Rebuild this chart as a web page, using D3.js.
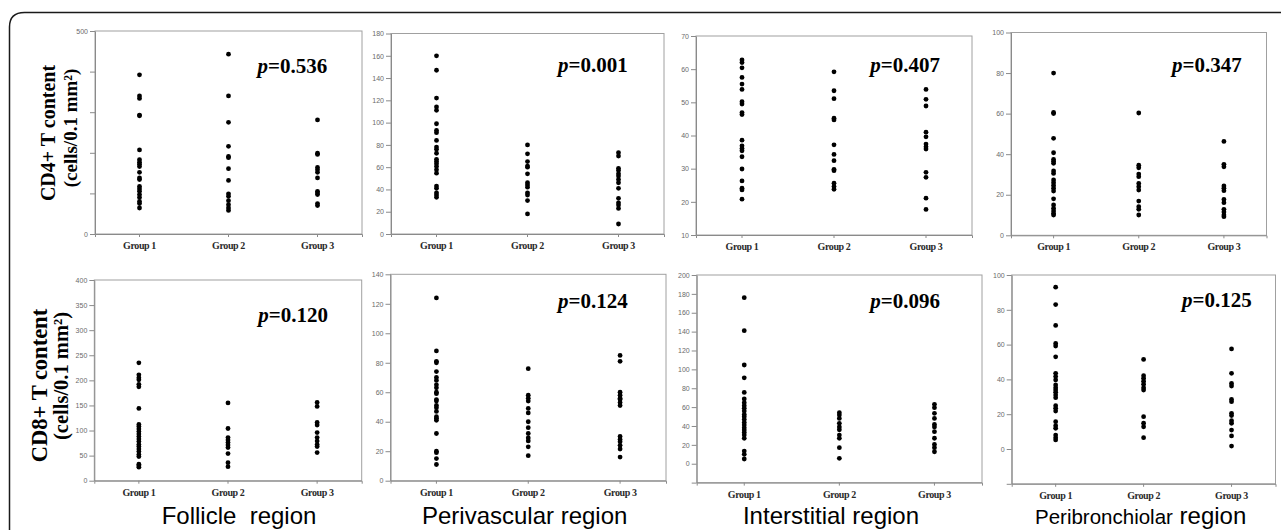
<!DOCTYPE html>
<html>
<head>
<meta charset="utf-8">
<script src="https://cdn.jsdelivr.net/npm/d3@7"></script>
<style>
  body { margin: 0; background: #fff; }
  svg { display: block; }
</style>
</head>
<body>
<div id="chart"></div>
<script>
var width = 1281;
var height = 530;

// data
var groups = ["Group 1", "Group 2", "Group 3"];
var regions = ["Follicle  region", "Perivascular region", "Interstitial region", "Peribronchiolar region"];

var cd4Follicle = [
    [392, 340, 334, 293, 291, 207, 183, 177, 172, 166, 152, 138, 134, 117, 111, 105, 97, 90, 80, 75, 64],
    [443, 340, 275, 216, 191, 188, 161, 132, 99, 93, 82, 72, 64, 58],
    [281, 199, 196, 164, 158, 152, 138, 105, 101, 97, 75, 70]
];
var cd4Perivascular = [
    [160, 147, 122, 114, 111, 99, 93, 91, 84, 78, 76, 72.5, 67, 65, 63, 60.6, 57.6, 54.6, 43, 41, 37, 35, 33],
    [80, 72, 65, 61, 60, 54, 46, 44, 42, 37, 35, 30, 18],
    [73, 70, 59, 57, 54, 52, 49, 46, 41, 32, 28, 26, 23, 9]
];
var cd4Interstitial = [
    [62.8, 62, 60.4, 57.5, 55.5, 53.9, 50.2, 49.5, 46.9, 46.3, 38.6, 36.9, 36.1, 35.4, 33.6, 29.9, 26.3, 24.1, 23.6, 20.8],
    [59.2, 53.5, 51.1, 45.2, 44.7, 37.2, 34.3, 32.4, 29.8, 29.4, 25.6, 24.6, 23.8],
    [53.9, 50.9, 48.9, 41, 39.6, 37.4, 36.6, 35.9, 28.9, 27.4, 21.1, 17.7]
];
var cd4Peribronchiolar = [
    [80, 60.6, 60, 47.8, 40.7, 37.4, 36.5, 35.5, 31.7, 30.5, 27.3, 25.9, 24.6, 23.2, 21.8, 18, 15, 13.3, 12, 10.8, 10],
    [60.3, 34.6, 33.3, 30.2, 28.9, 25.6, 24, 22.3, 16.9, 14.1, 12.8, 10],
    [46.3, 35, 33.8, 24.3, 23.2, 22, 17.7, 16.1, 12.8, 11.5, 10, 9.2]
];
var cd8Follicle = [
    [235, 211, 205, 201, 192, 187, 144, 112, 108, 103, 98, 93, 88, 83, 78, 72, 68, 63, 58, 52, 48, 33, 30, 27],
    [155, 104, 86, 81, 76, 71, 66, 54, 36, 28],
    [156, 148, 116, 111, 96, 86, 79, 72, 68, 56]
];
var cd8Perivascular = [
    [124, 88, 81, 80, 74, 70, 68, 65, 63, 60, 59, 55, 54, 51, 49.5, 47, 43.4, 42.3, 41, 32, 20, 19, 15, 11],
    [76, 58, 56, 54, 49, 46, 40, 36, 32, 29, 27, 23, 17],
    [85, 81, 60, 58, 56, 55, 53, 51, 30, 28, 26.5, 24, 21.5, 16]
];
var cd8Interstitial = [
    [176, 141, 104.6, 91, 75.6, 68.6, 64.7, 61.5, 58.7, 55.8, 52.3, 49.8, 47, 43.8, 41, 38, 35.7, 33.2, 30.4, 26.9, 13.4, 10, 5],
    [54, 51.6, 48, 42.8, 39, 36, 30.4, 26.9, 17, 5.7],
    [63, 59.4, 53.4, 48, 41.7, 39, 34, 27, 20.5, 17, 12.7]
];
var cd8Peribronchiolar = [
    [93, 83, 71, 60.7, 59.2, 53, 43.5, 41.6, 39.7, 36.8, 35.2, 33.9, 32.6, 31, 29.5, 24.9, 23.4, 21.8, 15.7, 13.4, 11.9, 8, 6.5, 5.2],
    [51.5, 42.1, 40.6, 39, 37.2, 35.2, 33.9, 18.6, 14.8, 12.8, 6.5],
    [57.5, 43.5, 37.7, 36.2, 28.5, 27.2, 20.5, 19.2, 16.3, 14.8, 10.9, 7.5, 1.7]
];

// y domains, ticks and which ticks carry a label
var yDomains = [[0, 500], [0, 180], [10, 70], [0, 100], [0, 400], [0, 140], [-20, 200], [-20, 100]];
var yTicks = [
    [0, 100, 200, 300, 400, 500],
    [0, 20, 40, 60, 80, 100, 120, 140, 160, 180],
    [10, 20, 30, 40, 50, 60, 70],
    [0, 20, 40, 60, 80, 100],
    [0, 50, 100, 150, 200, 250, 300, 350, 400],
    [0, 20, 40, 60, 80, 100, 120, 140],
    [-20, 0, 20, 40, 60, 80, 100, 120, 140, 160, 180, 200],
    [-20, 0, 20, 40, 60, 80, 100]
];
var yTickLabels = [
    ["0", "", "", "", "", "500"],
    ["0", "20", "40", "60", "80", "100", "120", "140", "160", "180"],
    ["10", "20", "30", "40", "50", "60", "70"],
    ["0", "20", "40", "60", "80", "100"],
    ["0", "50", "100", "150", "200", "250", "300", "350", "400"],
    ["0", "20", "40", "60", "80", "100", "120", "140"],
    ["", "0", "20", "40", "60", "80", "100", "120", "140", "160", "180", "200"],
    ["", "0", "20", "40", "60", "80", "100"]
];
var pValues = ["0.536", "0.001", "0.407", "0.347", "0.120", "0.124", "0.096", "0.125"];

var panelData = [cd4Follicle, cd4Perivascular, cd4Interstitial, cd4Peribronchiolar,
                 cd8Follicle, cd8Perivascular, cd8Interstitial, cd8Peribronchiolar];

// layout: plot boxes [left, right, top, bottom] and p-value anchor (end, baseline)
var boxes = [
    [95, 362, 31, 234], [391, 664, 33.5, 234], [696, 972, 36, 235], [1011, 1266.5, 32.5, 235.3],
    [94.3, 361.7, 280, 480.7], [390.5, 666, 274.3, 480.7], [696.7, 982, 275, 482.6], [1011.7, 1275.5, 275, 483.8]
];
var pPos = [
    [327.3, 73.3], [627.7, 72], [940, 72], [1241.7, 72],
    [328, 321.7], [627.7, 308], [940, 308], [1251.7, 306.7]
];

var svg = d3.select("#chart")
    .append("svg")
    .attr("width", width)
    .attr("height", height);

// outer frame, only the rounded top-left corner is visible
svg.append("path")
    .attr("d", "M9.5,540 L9.5,27 Q9.5,12.5 24.5,12.5 L1290,12.5")
    .attr("fill", "none")
    .attr("stroke", "#1a1a1a")
    .attr("stroke-width", 1.5);

panelData.forEach(function (data, i) {
    var b = boxes[i];
    var g = svg.append("g");

    var x = d3.scaleBand()
        .domain(groups)
        .range([b[0], b[1]]);

    var y = d3.scaleLinear()
        .domain(yDomains[i])
        .range([b[3], b[2]]);

    // box around the plot area
    g.append("rect")
        .attr("x", b[0])
        .attr("y", b[2])
        .attr("width", b[1] - b[0])
        .attr("height", b[3] - b[2])
        .attr("fill", "#fff")
        .attr("stroke", "#a0a0a0")
        .attr("stroke-width", 1);

    var labels = yTickLabels[i];
    var ticks = yTicks[i];

    var yAxis = g.append("g")
        .attr("transform", "translate(" + b[0] + ",0)")
        .call(d3.axisLeft(y)
            .tickValues(ticks)
            .tickSize(5)
            .tickSizeOuter(0)
            .tickPadding(2)
            .tickFormat(function (d, k) { return labels[k]; }));
    yAxis.selectAll("text")
        .style("font-family", "Liberation Sans, Arial, sans-serif")
        .style("font-size", "7px")
        .attr("fill", "#6a6a6a");
    yAxis.selectAll("line, path").attr("stroke", "#8a8a8a");

    var xAxis = g.append("g")
        .attr("transform", "translate(0," + b[3] + ")")
        .call(d3.axisBottom(x)
            .tickSize(3)
            .tickSizeOuter(3)
            .tickPadding(5));
    xAxis.selectAll("text")
        .style("font-family", "Liberation Serif, Times New Roman, serif")
        .style("font-weight", "bold")
        .style("font-size", "10px")
        .style("letter-spacing", "-0.4px")
        .attr("fill", "#2a2a2a");
    xAxis.selectAll("line, path").attr("stroke", "#8a8a8a");

    // dots
    data.forEach(function (vals, k) {
        g.append("g")
            .selectAll("circle")
            .data(vals)
            .enter()
            .append("circle")
            .attr("cx", x(groups[k]) + x.bandwidth() / 2)
            .attr("cy", function (d) { return y(d); })
            .attr("r", 2.4)
            .attr("fill", "#000");
    });

    // p value
    var pt = g.append("text")
        .attr("x", pPos[i][0])
        .attr("y", pPos[i][1])
        .attr("text-anchor", "end")
        .style("font-family", "Liberation Serif, Times New Roman, serif")
        .style("font-weight", "bold")
        .style("font-size", "21px")
        .attr("fill", "#000");
    pt.append("tspan").style("font-style", "italic").text("p");
    pt.append("tspan").text("=" + pValues[i]);
});

// y titles
function yTitle(xPos, yPos, size, label) {
    svg.append("text")
        .attr("transform", "translate(" + xPos + "," + yPos + ") rotate(-90)")
        .attr("text-anchor", "middle")
        .style("font-family", "Liberation Serif, Times New Roman, serif")
        .style("font-weight", "bold")
        .style("font-size", size + "px")
        .attr("fill", "#000")
        .text(label);
}
yTitle(55, 133, 20, "CD4+ T content");
yTitle(77, 128, 19, "(cells/0.1 mm²)");
yTitle(47, 385.5, 22.5, "CD8+ T content");
yTitle(68, 376, 20.5, "(cells/0.1 mm²)");

// region captions
var captionY = 524;
var regionX = [239, 524.7, 831];
regions.slice(0, 3).forEach(function (r, i) {
    svg.append("text")
        .attr("x", regionX[i])
        .attr("y", captionY)
        .attr("text-anchor", "middle")
        .style("white-space", "pre")
        .style("font-family", "Liberation Sans, Arial, sans-serif")
        .style("font-size", "24px")
        .attr("fill", "#000")
        .text(r);
});
var last = svg.append("text")
    .attr("x", 1035)
    .attr("y", captionY)
    .style("font-family", "Liberation Sans, Arial, sans-serif")
    .attr("fill", "#000");
last.append("tspan").style("font-size", "20.5px").text(regions[3].split(" ")[0]);
last.append("tspan").style("font-size", "24px").text(" " + regions[3].split(" ")[1]);
</script>
</body>
</html>
